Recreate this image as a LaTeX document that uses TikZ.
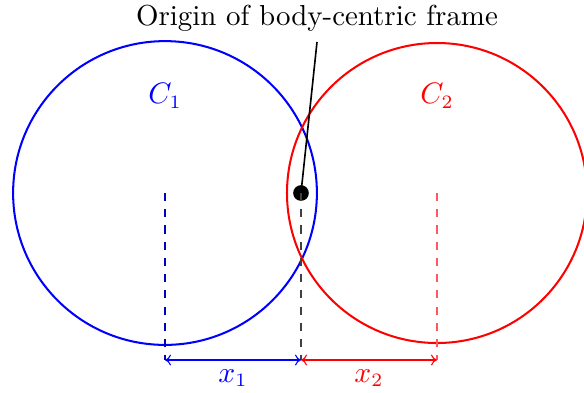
\documentclass[tikz,border=0pt]{standalone}
\usetikzlibrary{arrows.meta}
\begin{document}
\begin{tikzpicture}[x=0.37pt,y=-0.37pt,
  every node/.style={font=\fontsize{10.7}{13}\selectfont},
  ring/.style={circle,draw=#1,line width=0.75pt,inner sep=0pt,outer sep=0pt},
  guide/.style={dashed,line width=0.4pt,draw=#1},
  dim/.style={{To[length=2.2pt,width=4pt]}-{To[length=2.2pt,width=4pt]},line width=0.4pt,draw=#1},
  lab/.style={text=#1,inner sep=0pt}]
\useasboundingbox (0,0) rectangle (584,392);
\node[ring=blue,minimum size=112.4pt] (c1) at (165,193) {};
\node[ring=red,minimum size=111pt] (c2) at (437,193) {};
\node[lab=blue] (l1) at (165,96) {$C_1$};
\node[lab=red] (l2) at (437,96) {$C_2$};
\node[circle,fill=black,minimum size=5.8pt,inner sep=0pt] (o) at (301,193) {};
\node[inner sep=0pt] (t) at (317,18) {Origin of body-centric frame};
\coordinate (tb) at (317,42);
\draw[line width=0.6pt] (tb) -- (o.center);
\coordinate (a1) at (165,193);
\coordinate (b1) at (165,360);
\coordinate (b0) at (301,360);
\coordinate (a2) at (437,193);
\coordinate (b2) at (437,360);
\draw[guide=blue!75!black] (a1) -- (b1);
\draw[guide=black!75] (o.center) -- (b0);
\draw[guide=red!65] (a2) -- (b2);
\draw[dim=blue] (b1) -- (b0);
\draw[dim=red] (b0) -- (b2);
\node[lab=blue] (x1) at (233,378) {$x_1$};
\node[lab=red] (x2) at (369,378) {$x_2$};
\end{tikzpicture}
\end{document}
